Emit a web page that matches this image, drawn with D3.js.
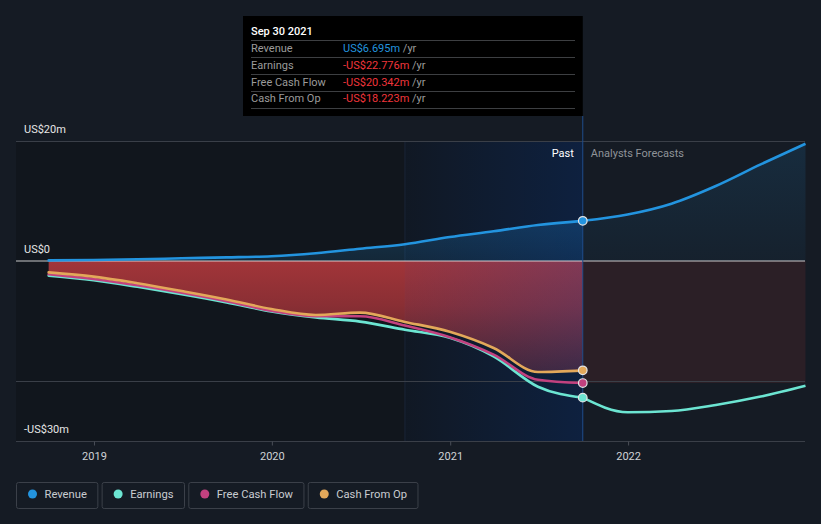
<!DOCTYPE html>
<html><head><meta charset="utf-8">
<script src="https://cdn.jsdelivr.net/npm/d3@7/dist/d3.min.js"></script>
<style>
html,body{margin:0;padding:0;background:#151b24;}
svg{display:block;font-family:Roboto,"Noto Sans",sans-serif;}
</style></head>
<body><svg id="c" width="821" height="524"></svg>
<script>
// ---- data ----
const pastDates = ["2018-09-30","2018-12-31","2019-03-31","2019-06-30","2019-09-30","2019-12-31","2020-03-31","2020-06-30","2020-09-30","2020-12-31","2021-03-31","2021-06-30","2021-09-30"];
const revenuePast  = [0.10,0.17,0.28,0.45,0.60,0.80,1.30,2.05,2.80,4.00,4.95,6.00,6.695];
const earningsPast = [-2.45,-3.20,-4.30,-5.55,-6.90,-8.40,-9.40,-10.10,-11.45,-12.80,-15.90,-20.95,-22.776];
const fcfPast      = [-2.20,-3.00,-4.05,-5.30,-6.70,-8.30,-9.20,-9.20,-10.75,-12.70,-15.60,-19.80,-20.342];
const cfoPast      = [-1.90,-2.60,-3.70,-5.00,-6.40,-8.00,-9.00,-8.60,-10.15,-11.80,-14.50,-18.50,-18.223];
const forecastDates    = ["2021-09-30","2021-12-31","2022-03-31","2022-06-30","2022-09-30","2022-12-31"];
const revenueForecast  = [6.695,7.75,9.55,12.50,16.10,19.55];
const earningsForecast = [-22.776,-25.20,-25.00,-24.00,-22.60,-20.80];
const yTickValues = [20,0,-30];
const yTickLabels = ["US$20m","US$0","-US$30m"];
const yGridValues = [20,-20];
const xTickYears = ["2019","2020","2021","2022"];
const seriesNames  = ["Revenue","Earnings","Free Cash Flow","Cash From Op"];
const seriesColors = ["#2394df","#6ce5d2","#c2417f","#e3a85a"];
const tooltipTitle = "Sep 30 2021";
const tooltipValues = ["US$6.695m","-US$22.776m","-US$20.342m","-US$18.223m"];
const highlightStart = "2020-09-30";

// ---- setup ----
const parse = d3.timeParse("%Y-%m-%d");
const svg = d3.select("#c");
const W = 821, H = 524;
const L = 16, R = 805, T = 141, B = 441;
const x = d3.scaleTime().domain([new Date(2018,6,25), new Date(2022,11,30)]).range([L,R]);
const y = d3.scaleLinear().domain([-30,20]).range([B,T]);
const pd = pastDates.map(parse), fd = forecastDates.map(parse);
const zip = (ds, vs) => ds.map((d,i)=>({d, v:vs[i]}));
const curve = d3.curveMonotoneX;
const lineGen = d3.line().x(p=>x(p.d)).y(p=>y(p.v)).curve(curve);
const areaGen = d3.area().x(p=>x(p.d)).y0(y(0)).y1(p=>y(p.v)).curve(curve);

svg.append("rect").attr("width",W).attr("height",H).attr("fill","#151b24");

const defs = svg.append("defs");
const g1 = defs.append("linearGradient").attr("id","hl").attr("x1","0").attr("x2","1").attr("y1","0").attr("y2","0");
g1.append("stop").attr("offset","0").attr("stop-color","#004bc8").attr("stop-opacity",0.04);
g1.append("stop").attr("offset","1").attr("stop-color","#004bc8").attr("stop-opacity",0.2);
const g2 = defs.append("linearGradient").attr("id","redg").attr("x1","0").attr("x2","0").attr("y1","0").attr("y2","1");
g2.append("stop").attr("offset","0").attr("stop-color","#a23539").attr("stop-opacity",1);
g2.append("stop").attr("offset","0.4").attr("stop-color","#9a3237").attr("stop-opacity",0.88);
g2.append("stop").attr("offset","1").attr("stop-color","#9a3237").attr("stop-opacity",0.42);
const g3 = defs.append("linearGradient").attr("id","revf").attr("x1","0").attr("x2","0").attr("y1","0").attr("y2","1");
g3.append("stop").attr("offset","0").attr("stop-color","#2394df").attr("stop-opacity",0.14);
g3.append("stop").attr("offset","1").attr("stop-color","#2394df").attr("stop-opacity",0.05);
const g4 = defs.append("linearGradient").attr("id","revp").attr("x1","0").attr("x2","0").attr("y1","0").attr("y2","1");
g4.append("stop").attr("offset","0").attr("stop-color","#2394df").attr("stop-opacity",0.24);
g4.append("stop").attr("offset","1").attr("stop-color","#2394df").attr("stop-opacity",0.14);

const xNow = x(pd[pd.length-1]);
const xHl = x(parse(highlightStart));

// past darkening
svg.append("rect").attr("x",L).attr("y",T).attr("width",xNow-L).attr("height",B-T).attr("fill","#000").attr("opacity",0.18);
svg.append("line").attr("x1",xHl).attr("x2",xHl).attr("y1",T).attr("y2",B).attr("stroke","#1a2434").attr("stroke-width",1);

// fills
svg.append("path").attr("d",areaGen(zip(fd,revenueForecast))).attr("fill","url(#revf)");
const fcfLast = fcfPast[fcfPast.length-1];
svg.append("path").attr("d",areaGen(fd.map(d=>({d, v:fcfLast})))).attr("fill","#9c3335").attr("opacity",0.17);
svg.append("path").attr("d",areaGen(zip(pd,revenuePast))).attr("fill","url(#revp)");
svg.append("path").attr("d",areaGen(zip(pd,cfoPast))).attr("fill","url(#redg)");

// highlight overlay
svg.append("rect").attr("x",xHl).attr("y",T).attr("width",xNow-xHl).attr("height",B-T).attr("fill","url(#hl)");

// grid
yGridValues.forEach(v=>{
  svg.append("line").attr("x1",L).attr("x2",R).attr("y1",Math.round(y(v))+0.5).attr("y2",Math.round(y(v))+0.5).attr("stroke","#3a3f48").attr("stroke-width",1);
});
svg.append("line").attr("x1",L).attr("x2",R).attr("y1",y(0)).attr("y2",y(0)).attr("stroke","#e8e8e8").attr("stroke-width",1.2).attr("opacity",0.85);

// x axis
const xAxis = d3.axisBottom(x).tickValues(xTickYears.map(s=>new Date(+s,0,1))).tickFormat(d3.timeFormat("%Y")).tickSize(4).tickSizeOuter(0);
const ax = svg.append("g").attr("transform",`translate(0,${B+0.5})`).call(xAxis);
ax.select(".domain").attr("stroke","#3a3f48").attr("d",`M${L},0H${R}`);
ax.selectAll(".tick line").attr("stroke","#4a4f58");
ax.selectAll(".tick text").attr("fill","#cfd2d6").attr("font-size",11).attr("font-family","Roboto").attr("dy","1.05em");

// y labels
yTickValues.forEach((v,i)=>{
  svg.append("text").attr("x",24).attr("y",y(v)-8).attr("fill","#e6e6e6").attr("font-size",11).text(yTickLabels[i]);
});

// hover line
svg.append("line").attr("x1",xNow).attr("x2",xNow).attr("y1",116).attr("y2",B).attr("stroke","#1e4d8c").attr("stroke-width",1);

// Past / Forecast labels
svg.append("text").attr("x",xNow-9).attr("y",157).attr("text-anchor","end").attr("fill","#ffffff").attr("font-size",11).text("Past");
svg.append("text").attr("x",xNow+8).attr("y",157).attr("fill","#8f9398").attr("font-size",11).text("Analysts Forecasts");

// lines
const pastSeries = [revenuePast, earningsPast, fcfPast, cfoPast];
const forecasts = [revenueForecast, earningsForecast, null, null];
[1,2,3,0].forEach(i=>{
  svg.append("path").attr("d",lineGen(zip(pd,pastSeries[i]))).attr("fill","none").attr("stroke",seriesColors[i]).attr("stroke-width",2.6).attr("stroke-linecap","round");
  if(forecasts[i]) svg.append("path").attr("d",lineGen(zip(fd,forecasts[i]))).attr("fill","none").attr("stroke",seriesColors[i]).attr("stroke-width",2.6);
});
[0,1,2,3].forEach(i=>{
  const arr = pastSeries[i];
  svg.append("circle").attr("cx",xNow).attr("cy",y(arr[arr.length-1])).attr("r",4.3).attr("fill",seriesColors[i]).attr("stroke","#e4e4e4").attr("stroke-width",1.2);
});

// tooltip
const tt = svg.append("g");
tt.append("rect").attr("x",243).attr("y",16).attr("width",xNow-243).attr("height",100).attr("fill","#000");
tt.append("text").attr("x",251).attr("y",35).attr("fill","#fff").attr("font-size",11).attr("font-weight",500).text(tooltipTitle);
[40,57,74,91,108].forEach(yy=>{
  tt.append("line").attr("x1",251).attr("x2",575).attr("y1",yy+0.5).attr("y2",yy+0.5).attr("stroke","#3d3f42").attr("stroke-width",1);
});
seriesNames.forEach((n,i)=>{
  const by = 52 + i*16.8;
  tt.append("text").attr("x",251).attr("y",by).attr("fill","#9b9b9b").attr("font-size",11).text(n);
  const t = tt.append("text").attr("x",343).attr("y",by).attr("font-size",11);
  t.append("tspan").attr("fill", i===0 ? "#2394df" : "#f0353b").text(tooltipValues[i]);
  t.append("tspan").attr("fill","#9b9b9b").text(" /yr");
});

// legend
let lx = 16.5;
seriesNames.forEach((n,i)=>{
  const g = svg.append("g");
  const txt = g.append("text").attr("x",lx+28).attr("y",498).attr("fill","#c9ccd1").attr("font-size",11.2).text(n);
  const w = txt.node().getComputedTextLength() + 28 + 11;
  g.insert("rect","text").attr("x",lx).attr("y",482.5).attr("width",w).attr("height",26).attr("rx",2).attr("fill","none").attr("stroke","#3b4049").attr("stroke-width",1);
  g.append("circle").attr("cx",lx+16).attr("cy",494).attr("r",4.5).attr("fill",seriesColors[i]);
  lx += w + 4.3;
});
</script></body></html>
